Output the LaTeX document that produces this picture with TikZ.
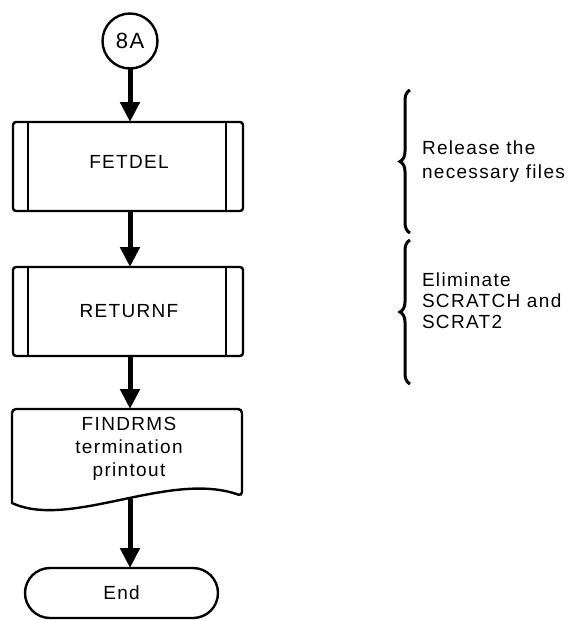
\documentclass[tikz,border=0pt]{standalone}
\usepackage{fontspec}
\setmainfont{Liberation Sans}[LetterSpace=7]
\usetikzlibrary{arrows.meta,shapes.misc,decorations.pathreplacing}

\begin{document}
\begin{tikzpicture}[x=1pt,y=-1pt,
  every node/.style={font=\fontsize{19}{23}\selectfont, inner sep=0pt, outer sep=0pt},
  outline/.style={draw, line width=2.4pt},
  procbox/.style={outline, rounded corners=3pt, minimum width=230pt, minimum height=89pt},
  flow/.style={line width=5pt, -{Triangle[width=19pt,length=20pt]}},
  note/.style={align=left, anchor=west},
  bracket/.style={line width=3pt, decorate, decoration={brace, amplitude=10pt}}
]
\useasboundingbox (0,0) rectangle (584,621);

% connector circle
\node[outline, circle, minimum size=55pt, font=\fontsize{22}{24}\selectfont] (c8a) at (130,41) {8A};

% predefined processes
\node[procbox] (fet) at (128,166.5) {};
\node (fettext) at (129,162) {FETDEL};
\draw[line width=2.4pt] ([xshift=15pt]fet.north west) -- ([xshift=15pt]fet.south west);
\draw[line width=2.4pt] ([xshift=-17pt]fet.north east) -- ([xshift=-17pt]fet.south east);

\node[procbox] (ret) at (128,311.5) {};
\node (rettext) at (129,311) {RETURNF};
\draw[line width=2.4pt] ([xshift=15pt]ret.north west) -- ([xshift=15pt]ret.south west);
\draw[line width=2.4pt] ([xshift=-17pt]ret.north east) -- ([xshift=-17pt]ret.south east);

% document (printout)
\draw[line width=2.4pt] (12,503) [rounded corners=4pt] -- (12,409) -- (242,409) -- (242,496)
  [sharp corners] .. controls (170,470) and (70,530) .. (12,503) -- cycle;
\node[align=center] (doc) at (129,449) {FINDRMS\\termination\\printout};
\coordinate (docN) at (130,409);
\coordinate (docS) at (130,499);

% terminal
\node[outline, rounded rectangle, minimum width=193pt, minimum height=50pt] (stop) at (121.5,593) {End};

% flow
\draw[flow] (c8a.south) -- (c8a.south |- fet.north);
\draw[flow] (fet.south -| c8a) -- (ret.north -| c8a);
\draw[flow] (ret.south -| c8a) -- (docN);
\draw[flow] (docS) -- (docS |- stop.north);

% comments
\coordinate (b1s) at (410,233);
\coordinate (b1e) at (410,90);
\coordinate (b2s) at (410,384);
\coordinate (b2e) at (410,240);
\draw[bracket] (b1s) -- (b1e);
\draw[bracket] (b2s) -- (b2e);
\node[note, font=\fontsize{19}{24}\selectfont] (n1) at (422,162) {Release the\\necessary files};
\node[note, font=\fontsize{19}{21}\selectfont] (n2) at (422,301) {Eliminate\\SCRATCH and\\SCRAT2};
\end{tikzpicture}
\end{document}
